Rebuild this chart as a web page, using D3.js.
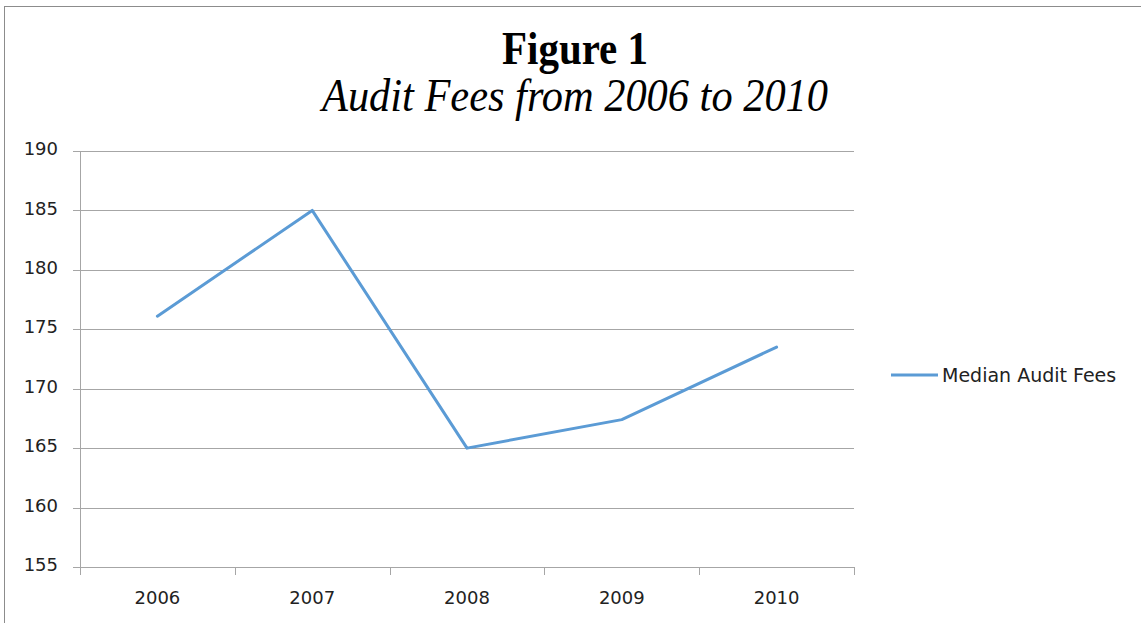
<!DOCTYPE html>
<html><head><meta charset="utf-8">
<script src="https://cdn.jsdelivr.net/npm/d3@7"></script>
<style>html,body{margin:0;padding:0;background:#fff;overflow:hidden}</style>
</head><body>
<script>
const years = ["2006","2007","2008","2009","2010"];
const medianFees = [176.1, 185.0, 165.0, 167.4, 173.5];
const yTicks = [155,160,165,170,175,180,185,190];
const titleText = "Figure 1";
const subtitleText = "Audit Fees from 2006 to 2010";
const seriesName = "Median Audit Fees";

(function(){
const W = 1141, H = 623;
const svg = d3.select("body").append("svg").attr("width", W).attr("height", H);
svg.append("rect").attr("width", W).attr("height", H).attr("fill", "#fff");
svg.append("rect").attr("x", 4.5).attr("y", 6.5).attr("width", 1160).attr("height", 640)
  .attr("fill", "none").attr("stroke", "#8c8c8c").attr("stroke-width", 1);

const pL = 80, pR = 854, pT = 151, pB = 567;
const x = d3.scaleBand().domain(years).range([pL, pR]);
const y = d3.scaleLinear().domain([155, 190]).range([pB, pT]);

const lblFont = "'DejaVu Sans', Verdana, sans-serif";
svg.append("g").selectAll("line").data(yTicks).join("line")
  .attr("x1", pL - 7).attr("x2", pR)
  .attr("y1", d => Math.round(y(d)) + 0.5).attr("y2", d => Math.round(y(d)) + 0.5)
  .attr("stroke", "#a6a6a6").attr("stroke-width", 1);

const yAxis = d3.axisLeft(y).tickValues(yTicks).tickSize(0).tickPadding(22);
const yg = svg.append("g").attr("transform", `translate(${pL},0)`).call(yAxis);
yg.select(".domain").remove();
yg.selectAll("text").attr("font-family", lblFont).attr("font-size", 18).attr("fill", "#222")
  .attr("dy", "0.2em");
svg.append("line").attr("x1", pL + 0.5).attr("x2", pL + 0.5).attr("y1", pT).attr("y2", pB)
  .attr("stroke", "#a6a6a6");

const xAxis = d3.axisBottom(x).tickSize(0).tickPadding(24);
const xg = svg.append("g").attr("transform", `translate(0,${pB})`).call(xAxis);
xg.select(".domain").remove();
xg.selectAll("text").attr("font-family", lblFont).attr("font-size", 18).attr("fill", "#222");
const bounds = years.map(d => x(d)).concat([pR]);
svg.append("g").selectAll("line").data(bounds).join("line")
  .attr("x1", d => Math.round(d) + 0.5).attr("x2", d => Math.round(d) + 0.5)
  .attr("y1", pB).attr("y2", pB + 8).attr("stroke", "#a6a6a6");
svg.append("line").attr("x1", pL).attr("x2", pR).attr("y1", pB + 0.5).attr("y2", pB + 0.5)
  .attr("stroke", "#a6a6a6");

const line = d3.line().x((d, i) => x(years[i]) + x.bandwidth() / 2).y(d => y(d));
svg.append("path").datum(medianFees).attr("d", line)
  .attr("fill", "none").attr("stroke", "#5b9bd5").attr("stroke-width", 3)
  .attr("stroke-linejoin", "round").attr("stroke-linecap", "round");

svg.append("text").attr("x", 575).attr("y", 64).attr("text-anchor", "middle")
  .attr("font-family", "'Liberation Serif', 'Times New Roman', serif").attr("font-weight", "bold")
  .attr("font-size", 46).attr("textLength", 146).attr("lengthAdjust", "spacingAndGlyphs")
  .attr("fill", "#000").text(titleText);
svg.append("text").attr("x", 575).attr("y", 111).attr("text-anchor", "middle")
  .attr("font-family", "'Liberation Serif', 'Times New Roman', serif").attr("font-style", "italic")
  .attr("font-size", 46).attr("textLength", 506).attr("lengthAdjust", "spacingAndGlyphs")
  .attr("fill", "#000").text(subtitleText);

svg.append("line").attr("x1", 891).attr("x2", 938).attr("y1", 375).attr("y2", 375)
  .attr("stroke", "#5b9bd5").attr("stroke-width", 3);
svg.append("text").attr("x", 942).attr("y", 382).attr("font-family", lblFont).attr("font-size", 19)
  .attr("fill", "#222").text(seriesName);
})();
</script>
</body></html>
